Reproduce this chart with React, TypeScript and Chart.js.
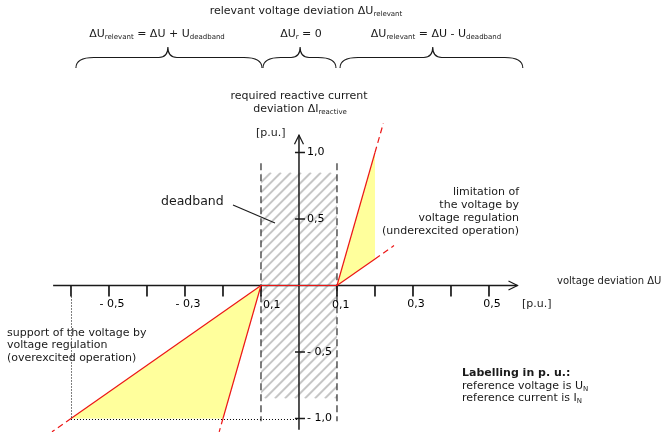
import React, { useEffect, useRef } from "react";
import { Chart, registerables } from "chart.js";

Chart.register(...registerables);

const W = 668;
const H = 432;

// visible value window of the diagram
const X_MIN = -0.7868;
const X_MAX = 0.9711;
const Y_MIN = -1.1015;
const Y_MAX = 2.1466;

// deadband (p.u.)
const deadband = [-0.1, 0.1];
const hatchRange = [-0.85, 0.85];
const deadbandMarkRange = [-1.02, 0.92];

// axes extent
const xAxisRange = [-0.647, 0.575];
const yAxisRange = [-1.085, 1.13];

// ticks and labels
const xTicks = [-0.6, -0.5, -0.4, -0.3, -0.2, -0.1, 0.1, 0.2, 0.3, 0.4, 0.5];
const xLabelValues = [-0.5, -0.3, -0.1, 0.1, 0.3, 0.5];
const xLabelTexts = ["- 0,5", "- 0,3", "0,1", "0,1", "0,3", "0,5"];
const yTicks = [1.0, 0.5, -0.5, -1.0];
const yLabelTexts = ["1,0", "0,5", "- 0,5", "- 1,0"];

// reference guides of the overexcited limit
const limitPoint = { x: -0.6, y: -1.0 };

// characteristic lines: underexcited side (ΔU > deadband)
const underSteep = [{ x: 0.1, y: 0 }, { x: 0.2, y: 1.0 }];
const underSteepExt = [{ x: 0.2, y: 1.0 }, { x: 0.222, y: 1.22 }];
const underFlat = [{ x: 0.1, y: 0 }, { x: 0.2, y: 0.2 }];
const underFlatExt = [{ x: 0.2, y: 0.2 }, { x: 0.25, y: 0.3 }];
// overexcited side (ΔU < -deadband)
const overFlat = [{ x: -0.1, y: 0 }, { x: -0.6, y: -1.0 }];
const overFlatExt = [{ x: -0.6, y: -1.0 }, { x: -0.65, y: -1.1 }];
const overSteep = [{ x: -0.1, y: 0 }, { x: -0.2, y: -1.0 }];
const overSteepExt = [{ x: -0.2, y: -1.0 }, { x: -0.21, y: -1.1 }];
// no reaction inside the deadband
const insideDeadband = [{ x: -0.1, y: 0 }, { x: 0.1, y: 0 }];

// permitted operating areas
const underArea = [{ x: 0.1, y: 0 }, { x: 0.2, y: 1.0 }, { x: 0.2, y: 0.2 }, { x: 0.1, y: 0 }];
const overArea = [{ x: -0.1, y: 0 }, { x: -0.6, y: -1.0 }, { x: -0.2, y: -1.0 }, { x: -0.1, y: 0 }];

const RED = "rgb(236,22,22)";
const YELLOW = "#ffff9c";
const INK = "#1a1a1a";
const FAMILY = '"DejaVu Sans", Verdana, sans-serif';

type Run = { t: string; sub?: boolean; bold?: boolean };

function rich(
  ctx: CanvasRenderingContext2D,
  runs: Run[],
  x: number,
  y: number,
  align: "left" | "center" | "right",
  size = 11
) {
  const fontOf = (r: Run) =>
    `${r.bold ? "bold " : ""}${r.sub ? Math.round(size * 0.64) : size}px ${FAMILY}`;
  let total = 0;
  for (const r of runs) {
    ctx.font = fontOf(r);
    total += ctx.measureText(r.t).width;
  }
  let cx = align === "center" ? x - total / 2 : align === "right" ? x - total : x;
  ctx.textAlign = "left";
  ctx.textBaseline = "middle";
  for (const r of runs) {
    ctx.font = fontOf(r);
    ctx.fillText(r.t, cx, r.sub ? y + 3 : y);
    cx += ctx.measureText(r.t).width;
  }
}

function brace(ctx: CanvasRenderingContext2D, x0: number, x1: number, xt: number) {
  const yEnd = 68;
  const yMid = 57.5;
  const yTip = 47;
  const re = 18;
  const rt = 9;
  ctx.beginPath();
  ctx.moveTo(x0, yEnd);
  ctx.quadraticCurveTo(x0, yMid, x0 + re, yMid);
  ctx.lineTo(xt - rt, yMid);
  ctx.quadraticCurveTo(xt, yMid, xt, yTip);
  ctx.quadraticCurveTo(xt, yMid, xt + rt, yMid);
  ctx.lineTo(x1 - re, yMid);
  ctx.quadraticCurveTo(x1, yMid, x1, yEnd);
  ctx.stroke();
}

const diagramPlugin = {
  id: "diagram",
  beforeDatasetsDraw(chart: any) {
    const ctx: CanvasRenderingContext2D = chart.ctx;
    const X = (v: number) => chart.scales.x.getPixelForValue(v);
    const Y = (v: number) => chart.scales.y.getPixelForValue(v);

    // hatched deadband
    const l = X(deadband[0]);
    const r = X(deadband[1]);
    const t = Y(hatchRange[1]);
    const b = Y(hatchRange[0]);
    ctx.save();
    ctx.beginPath();
    ctx.rect(l, t, r - l, b - t);
    ctx.clip();
    ctx.strokeStyle = "#c6c6c6";
    ctx.lineWidth = 2;
    const h = b - t;
    for (let s = l - h; s < r + 12; s += 10) {
      ctx.beginPath();
      ctx.moveTo(s, b);
      ctx.lineTo(s + h, t);
      ctx.stroke();
    }
    ctx.restore();

    // dashed deadband limits
    ctx.save();
    ctx.strokeStyle = "#3a3a3a";
    ctx.lineWidth = 1.3;
    ctx.setLineDash([7, 4]);
    for (const d of deadband) {
      ctx.beginPath();
      ctx.moveTo(X(d), Y(deadbandMarkRange[1]));
      ctx.lineTo(X(d), Y(deadbandMarkRange[0]));
      ctx.stroke();
    }
    ctx.restore();

    // axes with open arrowheads
    ctx.save();
    ctx.strokeStyle = INK;
    ctx.lineWidth = 1.5;
    const x0 = X(0);
    const y0 = Y(0);
    ctx.beginPath();
    ctx.moveTo(X(xAxisRange[0]), y0);
    ctx.lineTo(X(xAxisRange[1]), y0);
    ctx.moveTo(x0, Y(yAxisRange[0]));
    ctx.lineTo(x0, Y(yAxisRange[1]));
    ctx.stroke();
    ctx.lineWidth = 1.2;
    const ax = X(xAxisRange[1]);
    const ay = Y(yAxisRange[1]);
    ctx.beginPath();
    ctx.moveTo(ax - 9, y0 - 4.5);
    ctx.lineTo(ax, y0);
    ctx.lineTo(ax - 9, y0 + 4.5);
    ctx.moveTo(x0 - 4.5, ay + 9);
    ctx.lineTo(x0, ay);
    ctx.lineTo(x0 + 4.5, ay + 9);
    ctx.stroke();

    // ticks
    ctx.lineWidth = 1.7;
    ctx.beginPath();
    for (const v of xTicks) {
      ctx.moveTo(X(v), y0);
      ctx.lineTo(X(v), y0 + 11);
    }
    ctx.stroke();
    ctx.lineWidth = 1.3;
    ctx.beginPath();
    for (const v of yTicks) {
      ctx.moveTo(x0 - 4, Y(v));
      ctx.lineTo(x0 + 6, Y(v));
    }
    ctx.stroke();

    // tick labels
    ctx.fillStyle = "#000";
    xLabelValues.forEach((v, i) => {
      const px = X(v);
      if (Math.abs(v) < 0.15) {
        rich(ctx, [{ t: xLabelTexts[i] }], v < 0 ? px + 2 : px - 5, y0 + 20, "left");
      } else {
        rich(ctx, [{ t: xLabelTexts[i] }], px + 3, y0 + 19, "center");
      }
    });
    yTicks.forEach((v, i) => {
      rich(ctx, [{ t: yLabelTexts[i] }], x0 + 8, Y(v), "left");
    });
    ctx.restore();
  },

  afterDatasetsDraw(chart: any) {
    const ctx: CanvasRenderingContext2D = chart.ctx;
    const X = (v: number) => chart.scales.x.getPixelForValue(v);
    const Y = (v: number) => chart.scales.y.getPixelForValue(v);

    // dotted guides to the overexcited limit
    ctx.save();
    ctx.strokeStyle = "#000";
    ctx.lineWidth = 1;
    ctx.setLineDash([1, 2]);
    ctx.beginPath();
    ctx.moveTo(Math.round(X(limitPoint.x)) + 0.5, Y(0) + 11);
    ctx.lineTo(Math.round(X(limitPoint.x)) + 0.5, Y(limitPoint.y));
    ctx.moveTo(X(limitPoint.x), Math.round(Y(limitPoint.y)) + 0.5);
    ctx.lineTo(X(0) - 2, Math.round(Y(limitPoint.y)) + 0.5);
    ctx.stroke();
    ctx.restore();

    ctx.save();
    ctx.fillStyle = INK;
    ctx.strokeStyle = INK;

    // header
    rich(ctx, [{ t: "relevant voltage deviation ΔU" }, { t: "relevant", sub: true }], 306, 11, "center");
    rich(
      ctx,
      [{ t: "ΔU" }, { t: "relevant", sub: true }, { t: " = ΔU + U" }, { t: "deadband", sub: true }],
      157,
      34,
      "center"
    );
    rich(ctx, [{ t: "ΔU" }, { t: "r", sub: true }, { t: " = 0" }], 301, 34, "center");
    rich(
      ctx,
      [{ t: "ΔU" }, { t: "relevant", sub: true }, { t: " = ΔU - U" }, { t: "deadband", sub: true }],
      436,
      34,
      "center"
    );

    // braces over the three voltage ranges
    ctx.lineWidth = 1.1;
    brace(ctx, X(-0.587), X(-0.1) + 1, X(-0.345));
    brace(ctx, X(-0.1) + 2, X(0.1) - 1, X(0.003));
    brace(ctx, X(0.108), X(0.589), X(0.352));

    // axis titles
    rich(ctx, [{ t: "required reactive current" }], 299, 96, "center");
    rich(ctx, [{ t: "deviation ΔI" }, { t: "reactive", sub: true }], 300, 109, "center");
    rich(ctx, [{ t: "[p.u.]" }], 256, 133, "left");
    rich(ctx, [{ t: "voltage deviation ΔU" }], 557, 281, "left", 10);
    rich(ctx, [{ t: "[p.u.]" }], 522, 304, "left");

    // deadband label with leader
    rich(ctx, [{ t: "deadband" }], 161, 202, "left", 12.5);
    ctx.lineWidth = 1.1;
    ctx.beginPath();
    ctx.moveTo(233, 205);
    ctx.lineTo(275, 223);
    ctx.stroke();

    // operating area notes
    const under = ["limitation of", "the voltage by", "voltage regulation", "(underexcited operation)"];
    under.forEach((s, i) => rich(ctx, [{ t: s }], 519, 192 + i * 12.9, "right"));
    const over = ["support of the voltage by", "voltage regulation", "(overexcited operation)"];
    over.forEach((s, i) => rich(ctx, [{ t: s }], 7, 333 + i * 12.6, "left"));

    rich(ctx, [{ t: "Labelling in p. u.:", bold: true }], 462, 373, "left");
    rich(ctx, [{ t: "reference voltage is U" }, { t: "N", sub: true }], 462, 386, "left");
    rich(ctx, [{ t: "reference current is I" }, { t: "N", sub: true }], 462, 398.5, "left");
    ctx.restore();
  },
};

function lineSet(data: { x: number; y: number }[], dashed = false) {
  return {
    data,
    borderColor: RED,
    borderWidth: 1.2,
    borderDash: dashed ? [6, 4] : [],
    pointRadius: 0,
    fill: false,
    tension: 0,
  };
}

function areaSet(data: { x: number; y: number }[]) {
  return {
    data,
    borderWidth: 0,
    borderColor: "rgba(0,0,0,0)",
    backgroundColor: YELLOW,
    pointRadius: 0,
    fill: "shape",
    tension: 0,
  };
}

export default function App() {
  const ref = useRef<HTMLCanvasElement>(null);

  useEffect(() => {
    const canvas = ref.current;
    if (!canvas) return;
    const chart = new Chart(canvas, {
      type: "line",
      data: {
        datasets: [
          lineSet(insideDeadband),
          lineSet(underSteep),
          lineSet(underFlat),
          lineSet(overFlat),
          lineSet(overSteep),
          lineSet(underSteepExt, true),
          lineSet(underFlatExt, true),
          lineSet(overFlatExt, true),
          lineSet(overSteepExt, true),
          areaSet(underArea),
          areaSet(overArea),
        ] as any,
      },
      options: {
        animation: false,
        responsive: false,
        devicePixelRatio: 1,
        layout: { padding: 0 },
        events: [],
        plugins: {
          legend: { display: false },
          tooltip: { enabled: false },
          title: { display: false },
        },
        scales: {
          x: { type: "linear", min: X_MIN, max: X_MAX, display: false },
          y: { type: "linear", min: Y_MIN, max: Y_MAX, display: false },
        },
      } as any,
      plugins: [diagramPlugin],
    });
    return () => chart.destroy();
  }, []);

  return (
    <div style={{ position: "absolute", left: 0, top: 0, width: W, height: H, background: "#fff" }}>
      <canvas ref={ref} width={W} height={H} style={{ display: "block", width: W, height: H }} />
    </div>
  );
}
